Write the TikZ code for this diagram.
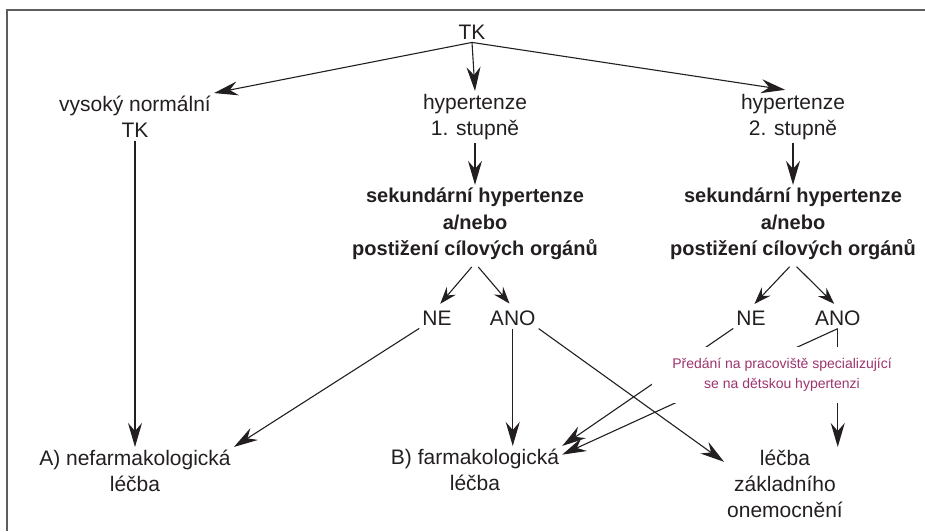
\documentclass[tikz,border=0pt]{standalone}
\usepackage{fontspec}
\setmainfont{Liberation Sans}
\usetikzlibrary{positioning}
\usetikzlibrary{calc}
\usetikzlibrary{arrows.meta}

\definecolor{ink}{HTML}{231F20}
\definecolor{plum}{RGB}{158,52,110}
\definecolor{framegray}{HTML}{5E5E5E}

\begin{document}
\begin{tikzpicture}[x=1pt, y=-1pt,
        >={Stealth[length=24pt, width=14pt, inset=8pt]},
        stage/.style={align=center, text=ink, inner sep=3pt, font=\fontsize{21}{26}\selectfont},
        decision/.style={align=center, text=ink, inner sep=3pt, font=\bfseries\fontsize{20}{26.5}\selectfont},
        referral/.style={align=center, text=plum, fill=white, inner xsep=20pt, inner ysep=11pt, font=\fontsize{14}{20}\selectfont},
        link/.style={draw=ink, line width=1.1pt, ->},
        fork/.style={draw=ink, line width=1.1pt, -{Stealth[length=17pt, width=12pt, inset=6pt]}, shorten <=5pt, shorten >=5pt}]
        \useasboundingbox (0,0) rectangle (925,531);
        \draw[framegray, line width=1.5pt] (925,10) -- (7,10) -- (7,531);

        \node[stage] (tk) at (472,32) {TK};
        \node[stage] (vn) at (135,117) {vysoký normální\\TK};
        \node[stage] (hyp1) at (475,117) {hypertenze\\1. stupně};
        \node[stage] (hyp2) at (793,117) {hypertenze\\2. stupně};

        \node[decision] (sek1) at (475,224) {sekundární hypertenze\\a/nebo\\postižení cílových orgánů};
        \node[decision] (sek2) at (793,224) {sekundární hypertenze\\a/nebo\\postižení cílových orgánů};

        \node[stage] (ne1) at (437,318) {NE};
        \node[stage] (ano1) [right=32pt of ne1] {ANO};
        \node[stage] (ne2) at (751,318) {NE};
        \node[stage] (ano2) [right=43pt of ne2] {ANO};

        \node[stage] (nefarm) at (135,471) {A) nefarmakologická\\léčba};
        \node[stage] (farm) at (475,470) {B) farmakologická\\léčba};
        \node[stage] (zakl) at (785,484) {léčba\\základního\\onemocnění};

        \draw[link] (tk.south) -- (vn.north east);
        \draw[link] (tk.south) -- (hyp1.north);
        \draw[link, shorten >=8pt] (tk.south) -- (hyp2.north);
        \draw[link] (vn.south) -- (nefarm.north);
        \draw[link] (hyp1.south) -- (sek1.north);
        \draw[link] (hyp2.south) -- (sek2.north);

        \draw[fork] (sek1.south) -- (ne1.north);
        \draw[fork] (sek1.south) -- (ano1.north);
        \draw[fork] (sek2.south) -- (ne2.north);
        \draw[fork] (sek2.south) -- (ano2.north);

        \draw[link] (ne1.south west) -- (nefarm.north east);
        \draw[link] (ano1.south) -- (ano1.south |- farm.north);
        \draw[link] (ano1.south east) -- (zakl.160);
        \draw[link] (ne2.south west) -- (farm.north east);
        \draw[link] (ano2.south) -- (farm.10);
        \draw[link] (ano2.south) -- (ano2.south |- zakl.north);

        % predani lezi nad carami
        \node[referral] (pred) at (782,375) {Předání na pracoviště specializující\\se na dětskou hypertenzi};
\end{tikzpicture}
\end{document}
